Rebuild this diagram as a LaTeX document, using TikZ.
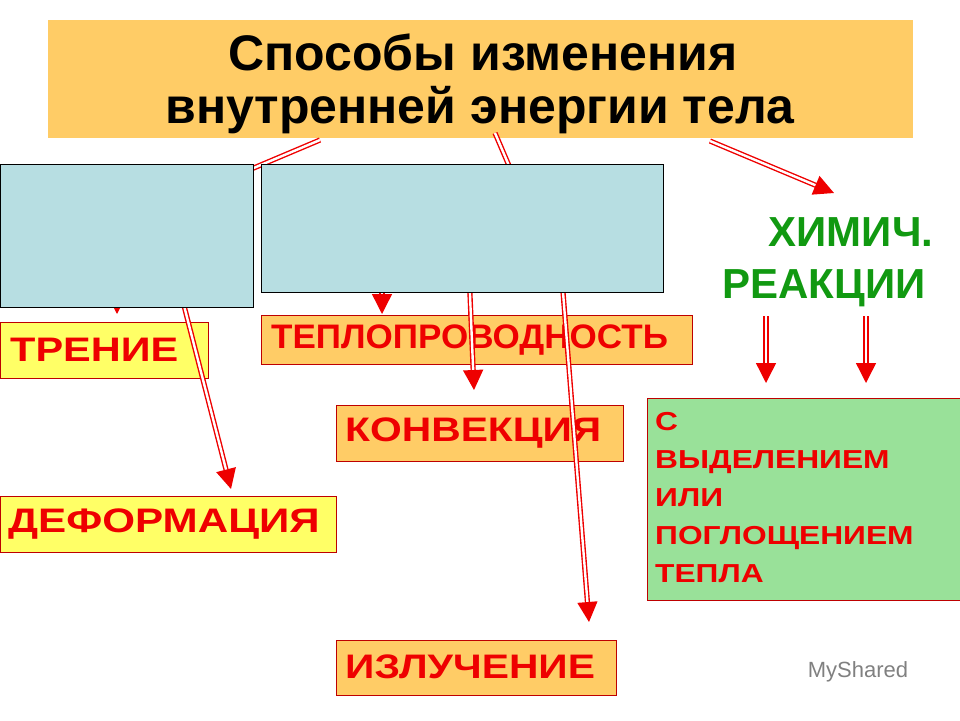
\documentclass[tikz,border=0pt]{standalone}
\usepackage{fontspec}
\usepackage{graphicx}
\setmainfont{Liberation Sans}
\usetikzlibrary{arrows.meta}
\definecolor{tit}{HTML}{FFCC66}
\definecolor{lblue}{HTML}{B7DEE2}
\definecolor{yel}{HTML}{FFFF66}
\definecolor{grn}{HTML}{99E199}
\definecolor{dgreen}{HTML}{119911}
\definecolor{rd}{HTML}{EE0000}
\newcommand{\lbl}[2]{\scalebox{#1}[1]{#2}}
\tikzset{
 box/.style={draw=rd!80!black, line width=0.8pt, anchor=north west, inner sep=0pt},
 lab/.style={anchor=west, inner sep=0pt, text=rd, font=\bfseries\fontsize{34}{40}\selectfont},
 bluebox/.style={draw=black, line width=0.8pt, fill=lblue, anchor=north west, inner sep=0pt},
 arr/.style={draw=rd, double=white, line width=1.4pt, double distance=2.4pt, -{Triangle[length=20pt,width=20pt,fill=rd]}},
 arrl/.style={draw=rd, double=white, line width=1.4pt, double distance=2.4pt},
}
\begin{document}
\begin{tikzpicture}[x=1pt,y=-1pt]
\useasboundingbox (0,0) rectangle (960,720);
\node[anchor=north west, fill=tit, minimum width=865pt, minimum height=118pt, inner sep=0pt] (title) at (48,20) {};
\node[font=\bfseries\fontsize{50}{60}\selectfont, inner sep=0pt] (t1) at (483,52) {Способы изменения};
\node[font=\bfseries\fontsize{50}{60}\selectfont, inner sep=0pt] (t2) at (480,110) {внутренней энергии тела};
% label boxes
\node[box, fill=yel, minimum width=208pt, minimum height=56pt] (tren) at (0,322) {};
\node[lab] (trent) at (10,350) {\lbl{1.22}{ТРЕНИЕ}};
\node[box, fill=tit, minimum width=431pt, minimum height=49pt] (tepl) at (261,315) {};
\node[lab] (teplt) at (271,340) {\lbl{1.03}{ТЕПЛОПРОВОДНОСТЬ}};
\node[box, fill=tit, minimum width=287pt, minimum height=56pt] (konv) at (336,405) {};
\node[lab] (konvt) at (345,433) {\lbl{1.2}{КОНВЕКЦИЯ}};
\node[box, fill=yel, minimum width=336pt, minimum height=56pt] (def) at (0,496) {};
\node[lab] (deft) at (8,524) {\lbl{1.24}{ДЕФОРМАЦИЯ}};
\node[box, fill=tit, minimum width=280pt, minimum height=55pt] (izl) at (336,640) {};
\node[lab] (izlt) at (345,667) {\lbl{1.2}{ИЗЛУЧЕНИЕ}};
\node[box, fill=grn, minimum width=313pt, minimum height=202pt] (chbox) at (647,398) {};
\node[anchor=north west, text=rd, align=left, inner sep=0pt, font=\bfseries\fontsize{26}{38}\selectfont] (chtext) at (655,412) {\lbl{1.22}{С}\\\lbl{1.22}{ВЫДЕЛЕНИЕМ}\\\lbl{1.22}{ИЛИ}\\\lbl{1.22}{ПОГЛОЩЕНИЕМ}\\\lbl{1.22}{ТЕПЛА}};
\node[text=dgreen, font=\bfseries\fontsize{42}{48}\selectfont, inner sep=0pt] (him) at (851,232) {ХИМИЧ.};
\node[text=dgreen, font=\bfseries\fontsize{42}{48}\selectfont, inner sep=0pt] (reak) at (824,288) {РЕАКЦИИ};
% coordinates
\coordinate (a1s) at (320,140); \coordinate (a1m) at (230,178); \coordinate (a1n) at (117,260); \coordinate (a1e) at (117,314);
\coordinate (a2s) at (180,290); \coordinate (a2e) at (231,489);
\coordinate (a3s) at (382,250); \coordinate (a3e) at (382,314);
\coordinate (a4s) at (466,200); \coordinate (a4e) at (474,390);
\coordinate (a5s) at (495,133); \coordinate (a5m) at (563,292); \coordinate (a5e) at (589,622);
\coordinate (a6s) at (710,141); \coordinate (a6e) at (834,193);
\coordinate (a7s) at (766,316); \coordinate (a7e) at (766,383);
\coordinate (a8s) at (866,316); \coordinate (a8e) at (866,383);
% arrows
\draw[arrl] (a1s) -- (a1m) -- (a1n);
\draw[arr] (a1n) -- (a1e);
\draw[arr] (a2s) -- (a2e);
\draw[arr] (a3s) -- (a3e);
\draw[arr] (a4s) -- (a4e);
\draw[arrl] (a5s) -- (a5m);
\draw[arr] (a5m) -- (a5e);
\draw[arr] (a6s) -- (a6e);
\draw[arr] (a7s) -- (a7e);
\draw[arr] (a8s) -- (a8e);
% blue boxes on top
\node[bluebox, minimum width=253pt, minimum height=143pt] (b1) at (0,164) {};
\node[bluebox, minimum width=402pt, minimum height=128pt] (b2) at (261,164) {};
% watermark
\node[text=gray, font=\fontsize{22}{26}\selectfont] (wm) at (858,672) {MyShared};
\end{tikzpicture}
\end{document}
